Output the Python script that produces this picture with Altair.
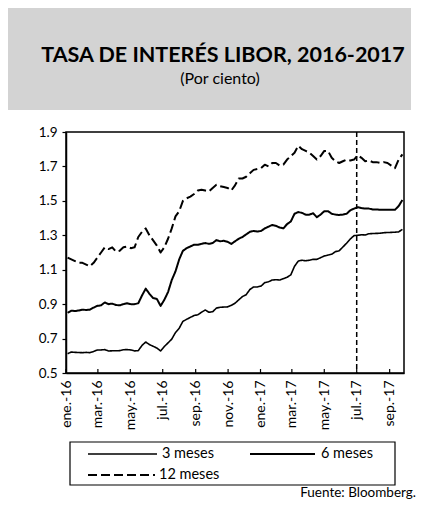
import altair as alt
import pandas as pd

# ---------------- data ----------------
start_date = "2016-01-04"
n_weeks = 91
dates = pd.date_range(start_date, periods=n_weeks, freq="7D").strftime("%Y-%m-%d").tolist()

m3 = [0.612, 0.622, 0.620, 0.619, 0.618, 0.620, 0.618, 0.625, 0.634, 0.634,
      0.636, 0.628, 0.629, 0.629, 0.630, 0.635, 0.636, 0.634, 0.628, 0.630,
      0.660, 0.680, 0.665, 0.655, 0.645, 0.628, 0.654, 0.675, 0.697, 0.735,
      0.760, 0.800, 0.812, 0.823, 0.834, 0.838, 0.853, 0.866, 0.853, 0.856,
      0.877, 0.882, 0.883, 0.884, 0.893, 0.905, 0.925, 0.944, 0.955, 0.985,
      1.000, 1.000, 1.005, 1.025, 1.030, 1.040, 1.042, 1.040, 1.048, 1.056,
      1.070, 1.120, 1.150, 1.155, 1.152, 1.155, 1.160, 1.160, 1.170, 1.180,
      1.185, 1.190, 1.205, 1.210, 1.232, 1.254, 1.279, 1.298, 1.300, 1.303,
      1.302, 1.309, 1.310, 1.311, 1.312, 1.315, 1.316, 1.317, 1.318, 1.320,
      1.334]

m6 = [0.850, 0.862, 0.860, 0.863, 0.868, 0.866, 0.868, 0.880, 0.890, 0.893,
      0.910, 0.900, 0.903, 0.895, 0.893, 0.900, 0.905, 0.900, 0.900, 0.905,
      0.950, 0.990, 0.960, 0.935, 0.930, 0.890, 0.925, 0.970, 1.040, 1.090,
      1.160, 1.210, 1.225, 1.235, 1.245, 1.245, 1.250, 1.255, 1.250, 1.255,
      1.272, 1.265, 1.268, 1.262, 1.250, 1.265, 1.280, 1.290, 1.305, 1.320,
      1.325, 1.322, 1.325, 1.340, 1.350, 1.360, 1.355, 1.345, 1.340, 1.365,
      1.380, 1.425, 1.435, 1.430, 1.420, 1.420, 1.428, 1.405, 1.420, 1.440,
      1.440, 1.425, 1.420, 1.418, 1.420, 1.425, 1.445, 1.455, 1.463, 1.458,
      1.455, 1.455, 1.450, 1.450, 1.448, 1.448, 1.448, 1.448, 1.448, 1.470,
      1.505]

m12 = [1.170, 1.160, 1.150, 1.140, 1.140, 1.130, 1.120, 1.140, 1.170, 1.200,
       1.230, 1.220, 1.230, 1.205, 1.210, 1.230, 1.235, 1.225, 1.230, 1.290,
       1.320, 1.340, 1.300, 1.270, 1.240, 1.200, 1.230, 1.280, 1.340, 1.410,
       1.440, 1.500, 1.515, 1.525, 1.540, 1.560, 1.565, 1.560, 1.555, 1.575,
       1.593, 1.585, 1.580, 1.575, 1.560, 1.590, 1.630, 1.630, 1.640, 1.660,
       1.680, 1.685, 1.690, 1.710, 1.700, 1.720, 1.720, 1.705, 1.710, 1.740,
       1.760, 1.780, 1.820, 1.800, 1.790, 1.780, 1.760, 1.740, 1.760, 1.790,
       1.790, 1.750, 1.730, 1.720, 1.730, 1.740, 1.735, 1.740, 1.765, 1.750,
       1.730, 1.735, 1.725, 1.725, 1.720, 1.725, 1.720, 1.705, 1.690, 1.740,
       1.770]

series_names = ["3 meses", "6 meses", "12 meses"]
y_ticks = [0.5, 0.7, 0.9, 1.1, 1.3, 1.5, 1.7, 1.9]
tick_dates = ["2016-01-01", "2016-03-01", "2016-05-01", "2016-07-01", "2016-09-01",
              "2016-11-01", "2017-01-01", "2017-03-01", "2017-05-01", "2017-07-01",
              "2017-09-01"]
month_abbr = ["ene.", "feb.", "mar.", "abr.", "may.", "jun.", "jul.", "ago.",
              "sep.", "oct.", "nov.", "dic."]
marker_date = ["2017-07-01"]

title_text = "TASA DE INTERÉS LIBOR, 2016-2017"
subtitle_text = "(Por ciento)"
source_text = "Fuente: Bloomberg."

# ---------------- layout ----------------
W, H = 338, 241
FONT = "Lato"


def dt(s):
    y, m, d = (int(p) for p in s.split("-"))
    return alt.DateTime(year=y, month=m, date=d, utc=True)


months_js = "[" + ",".join("'%s'" % m for m in month_abbr) + "]"
x_scale = alt.Scale(type="utc", domain=[dt("2016-01-01"), dt("2017-09-28")])
y_scale = alt.Scale(domain=[0.5, 1.9], nice=False, zero=False)

x_axis = alt.Axis(
    values=[dt(d) for d in tick_dates],
    labelExpr=months_js + "[utcmonth(datum.value)] + '-' + utcFormat(datum.value, '%y')",
    labelAngle=270, labelFont=FONT, labelFontSize=14, labelColor="black",
    labelPadding=7, ticks=False, domainColor="black", domainWidth=1.5,
    grid=False, title=None, labelOverlap=False,
)
y_axis = alt.Axis(
    values=y_ticks, format=".1f", labelFont=FONT, labelFontSize=13.5,
    labelColor="black", tickSize=4, tickColor="black", tickWidth=1.2,
    labelPadding=5, domainColor="black", domainWidth=1.5, grid=False, title=None,
    labelOverlap=False,
)

one = alt.Data(values=[{"k": 0}])


def X():
    return alt.X("date:T", scale=x_scale, axis=x_axis)


def series_layer(values, width, dash):
    d = pd.DataFrame({"date": dates, "value": values})
    return alt.Chart(d).mark_line(
        color="black", strokeWidth=width, strokeDash=dash, strokeJoin="round"
    ).encode(
        x=X(),
        y=alt.Y("value:Q", scale=y_scale, axis=y_axis),
    )


header = alt.Chart(one).mark_rect(color="#d3d3d3").encode(
    x=alt.value(-58), x2=alt.value(345), y=alt.value(-124), y2=alt.value(-22))
title = alt.Chart(one).mark_text(
    text=title_text, font=FONT, fontSize=21.5, fontWeight="bold", color="black",
    align="center", baseline="alphabetic").encode(x=alt.value(157), y=alt.value(-70))
subtitle = alt.Chart(one).mark_text(
    text=subtitle_text, font=FONT, fontSize=16, color="black",
    align="center", baseline="alphabetic").encode(x=alt.value(154), y=alt.value(-48))

l3 = series_layer(m3, 1.6, [1, 0])
l6 = series_layer(m6, 2.0, [1, 0])
l12 = series_layer(m12, 2.0, [9, 4])

ticks_df = pd.DataFrame({"date": tick_dates})
inner_ticks = alt.Chart(ticks_df).mark_rule(color="black", strokeWidth=1.2).encode(
    x=X(), y=alt.value(H), y2=alt.value(H - 4))

marker = alt.Chart(pd.DataFrame({"date": marker_date})).mark_rule(
    color="black", strokeWidth=1.5, strokeDash=[5, 3]).encode(x=X())

legend_box = alt.Chart(one).mark_rect(
    fill="white", stroke="black", strokeWidth=1.2).encode(
    x=alt.value(4), x2=alt.value(329), y=alt.value(310), y2=alt.value(353))


def leg_line(x1, x2, y, width, dash):
    return alt.Chart(one).mark_rule(color="black", strokeWidth=width, strokeDash=dash).encode(
        x=alt.value(x1), x2=alt.value(x2), y=alt.value(y))


def leg_text(txt, x, y):
    return alt.Chart(one).mark_text(
        text=txt, font=FONT, fontSize=14.5, color="black", align="left",
        baseline="middle").encode(x=alt.value(x), y=alt.value(y))


legend = [
    legend_box,
    leg_line(22, 91, 322, 1.6, [1, 0]), leg_text(series_names[0], 96, 322),
    leg_line(184, 249, 322, 2.0, [1, 0]), leg_text(series_names[1], 255, 322),
    leg_line(22, 89, 343, 2.0, [9, 4]), leg_text(series_names[2], 93, 343),
]

source = alt.Chart(one).mark_text(
    text=source_text, font=FONT, fontSize=13.5, color="black", align="right",
    baseline="alphabetic").encode(x=alt.value(350), y=alt.value(365))

chart = alt.layer(
    header, title, subtitle, l3, l6, l12, inner_ticks, marker, *legend, source
).properties(
    width=W, height=H,
    autosize=alt.AutoSizeParams(type="none"),
    padding={"left": 58, "top": 124, "right": 15, "bottom": 127},
    background="white",
).configure_view(stroke="black", strokeWidth=1.5)

chart.save("out.html", embed_options={"renderer": "svg", "actions": False})
